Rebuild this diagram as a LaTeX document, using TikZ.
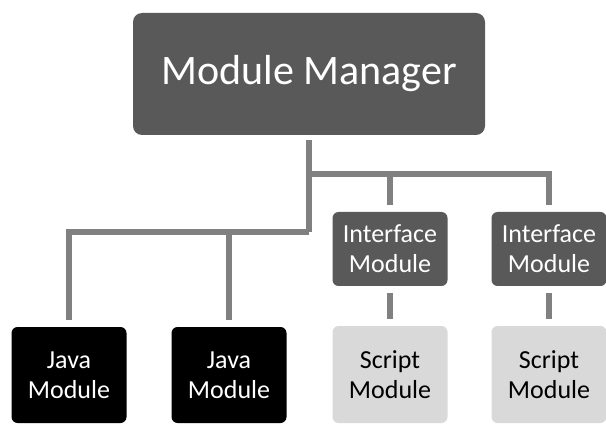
\documentclass[tikz,border=0pt]{standalone}
\usepackage{fontspec}
\setmainfont{Carlito}
\usepackage{xcolor}
\usepackage{tikz}

\definecolor{boxgray}{HTML}{595959}
\definecolor{lightbox}{HTML}{D9D9D9}
\definecolor{wiregray}{HTML}{808080}

\begin{document}
\begin{tikzpicture}[x=1pt,y=-1pt]
    \tikzstyle{module} = [rounded corners=6pt,inner sep=0pt,outer sep=7pt,align=center,
          font=\fontsize{26}{30}\selectfont]
    \tikzstyle{manager} = [module,fill=boxgray,text=white,minimum width=352pt,
          minimum height=122pt,rounded corners=9pt,outer sep=5pt,
          font=\fontsize{42}{48}\selectfont]
    \tikzstyle{java} = [module,fill=black,text=white,minimum width=115pt,minimum height=96pt]
    \tikzstyle{iface} = [module,fill=boxgray,text=white,minimum width=115pt,minimum height=74pt]
    \tikzstyle{script} = [module,fill=lightbox,text=black,minimum width=115pt,minimum height=97pt]
    \tikzstyle{wire} = [draw=wiregray,line width=6pt]
    \useasboundingbox (0,0) rectangle (606,425);

    \node[manager] (mgr) at (309,74) {Module Manager};

    \node[java] (java1) at (69,375) {Java\\Module};
    \node[java] (java2) at (229,375) {Java\\Module};

    \node[iface] (iface1) at (390,249) {Interface\\Module};
    \node[iface] (iface2) at (549,249) {Interface\\Module};

    \node[script] (script1) at (390,374.5) {Script\\Module};
    \node[script] (script2) at (549,374.5) {Script\\Module};

    \coordinate (busA) at (309,174);
    \coordinate (busB) at (309,232);

    % trunk and the two buses
    \draw[wire] (mgr.south) -- (busB);
    \draw[wire] (busA) -| (iface2);
    \draw[wire] (iface1 |- busA) -- (iface1);
    \draw[wire] (busB) -| (java1);
    \draw[wire] (java2 |- busB) -- (java2);

    \draw[wire] (iface1) -- (script1);
    \draw[wire] (iface2) -- (script2);
\end{tikzpicture}
\end{document}
